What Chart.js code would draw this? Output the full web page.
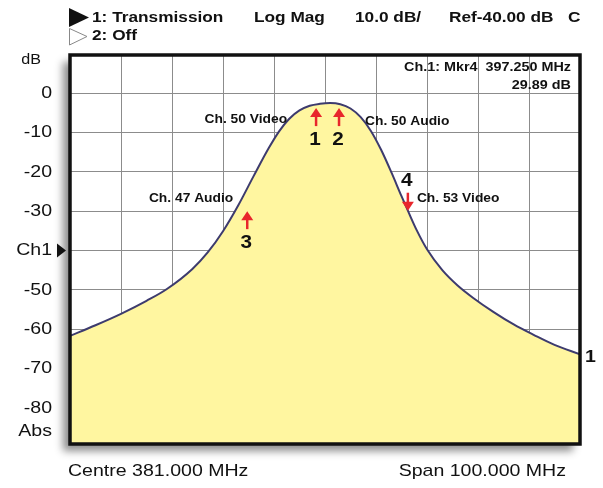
<!DOCTYPE html>
<html lang="en">
<head>
<meta charset="UTF-8">
<title>Transmission - Log Mag</title>
<script src="https://cdn.jsdelivr.net/npm/chart.js"></script>
<style>
  html, body { margin: 0; padding: 0; background: #fff; }
  #wrap { width: 603px; height: 488px; }
</style>
</head>
<body>
<div id="wrap"><canvas id="vna" width="603" height="488"></canvas></div>
<script>
// sweep settings
const centreMHz = 381;
const spanMHz = 100;

// trace 1: transmission
const freqMHz = [331, 336, 341, 346, 350, 355, 358, 361, 364, 367, 370, 372, 374, 376, 378, 380,
                 382, 384, 386, 388, 390, 392, 394, 396, 397.25, 399, 401, 404, 407, 410, 414, 418, 422, 426, 431];
const transmissionDb = [-61.7, -59.0, -56.1, -52.8, -49.8, -44.7, -40.5, -35.1, -28.5, -21.1, -13.9, -9.7, -6.5, -4.4, -3.2, -2.7,
                        -2.5, -2.8, -3.9, -6.1, -9.6, -14.4, -20.1, -26.2, -29.89, -34.9, -39.7, -45, -48.9, -52, -55.6, -58.8, -61.5, -64, -66.4];

// graticule
const freqGrid = [331, 341, 351, 361, 371, 381, 391, 401, 411, 421, 431];
const dbGrid = [0, -10, -20, -30, -40, -50, -60, -70, -80];
const dbLabels = ['0', '-10', '-20', '-30', 'Ch1', '-50', '-60', '-70', '-80'];

// markers
const markerNames = ['1', '2', '3', '4'];
const markerFreqMHz = [379.25, 383.75, 365.75, 397.25];
const markerDb = [-3.8, -3.8, -30, -29.89];
const markerNotes = ['Ch. 50 Video', 'Ch. 50 Audio', 'Ch. 47 Audio', 'Ch. 53 Video'];

const FONT = '"Liberation Sans", Arial, Helvetica, sans-serif';
const STRETCH = 1.15; // the screen font is a bit wider than Arial

// text drawn slightly stretched sideways
function text(ctx, str, x, y, align) {
    const w = ctx.measureText(str).width * STRETCH;
    let left = x;
    if (align === 'right') left = x - w;
    else if (align === 'center') left = x - w / 2;
    ctx.save();
    ctx.translate(left, y);
    ctx.scale(STRETCH, 1);
    ctx.textAlign = 'left';
    ctx.textBaseline = 'middle';
    ctx.fillText(str, 0, 0);
    ctx.restore();
}

function arrow(ctx, x, tipY, dir) {
    // dir = 1 -> points up, -1 -> points down
    const len = 18;
    ctx.strokeStyle = '#e8262c';
    ctx.fillStyle = '#e8262c';
    ctx.lineWidth = 2.5;
    ctx.beginPath();
    ctx.moveTo(x, tipY + dir * 6);
    ctx.lineTo(x, tipY + dir * len);
    ctx.stroke();
    ctx.beginPath();
    ctx.moveTo(x, tipY);
    ctx.lineTo(x - 6, tipY + dir * 9);
    ctx.lineTo(x + 6, tipY + dir * 9);
    ctx.closePath();
    ctx.fill();
}

const screenPlugin = {
    id: 'screen',
    beforeDraw(chart) {
        const { ctx, chartArea: a } = chart;
        ctx.save();
        ctx.shadowColor = 'rgba(0,0,0,0.45)';
        ctx.shadowBlur = 8;
        ctx.shadowOffsetX = -7;
        ctx.shadowOffsetY = 7;
        ctx.fillStyle = '#fff';
        ctx.fillRect(a.left, a.top, a.right - a.left, a.bottom - a.top);
        ctx.restore();
    },
    afterDraw(chart) {
        const { ctx, chartArea: a } = chart;
        const xs = chart.scales.x, ys = chart.scales.y;
        ctx.save();

        // frame
        ctx.strokeStyle = '#111';
        ctx.lineWidth = 3.5;
        ctx.strokeRect(a.left, a.top, a.right - a.left, a.bottom - a.top);

        // header
        ctx.fillStyle = '#111';
        ctx.beginPath();
        ctx.moveTo(69, 8); ctx.lineTo(69, 27); ctx.lineTo(89, 17.5); ctx.closePath();
        ctx.fill();
        ctx.strokeStyle = '#888';
        ctx.lineWidth = 1;
        ctx.beginPath();
        ctx.moveTo(69.5, 28.5); ctx.lineTo(69.5, 45); ctx.lineTo(87, 36.5); ctx.closePath();
        ctx.stroke();

        ctx.font = 'bold 15px ' + FONT;
        text(ctx, '1: Transmission', 92, 17.5, 'left');
        text(ctx, 'Log Mag', 254, 17.5, 'left');
        text(ctx, '10.0 dB/', 355, 17.5, 'left');
        text(ctx, 'Ref-40.00 dB', 449, 17.5, 'left');
        text(ctx, 'C', 568, 17.5, 'left');
        text(ctx, '2: Off', 92, 36, 'left');

        // y labels
        ctx.font = '17px ' + FONT;
        dbGrid.forEach((v, i) => text(ctx, dbLabels[i], 52, ys.getPixelForValue(v), 'right'));
        text(ctx, 'Abs', 52, ys.getPixelForValue(-86), 'right');
        ctx.font = '14px ' + FONT;
        text(ctx, 'dB', 41, ys.getPixelForValue(8.3), 'right');
        const refY = ys.getPixelForValue(-40);
        ctx.beginPath();
        ctx.moveTo(57, refY - 7); ctx.lineTo(57, refY + 7); ctx.lineTo(66, refY); ctx.closePath();
        ctx.fill();

        // footer
        ctx.font = '17px ' + FONT;
        text(ctx, 'Centre ' + centreMHz.toFixed(3) + ' MHz', 68, 471, 'left');
        text(ctx, 'Span ' + spanMHz.toFixed(3) + ' MHz', 566, 471, 'right');

        // active marker readout
        ctx.font = 'bold 12.5px ' + FONT;
        text(ctx, 'Ch.1: Mkr4  ' + markerFreqMHz[3].toFixed(3) + ' MHz', 571, 68, 'right');
        text(ctx, Math.abs(markerDb[3]).toFixed(2) + ' dB', 571, 86, 'right');

        // trace number at the right end
        ctx.font = 'bold 17px ' + FONT;
        text(ctx, '1', a.right + 5, ys.getPixelForValue(transmissionDb[transmissionDb.length - 1]) + 3, 'left');

        // markers with notes
        const dirs = [1, 1, 1, -1];
        const noteOff = [[-29, 12, 'right'], [26, 14, 'left'], [-14, -12, 'right'], [9, -12, 'left']];
        markerFreqMHz.forEach((f, i) => {
            const x = xs.getPixelForValue(f);
            const y = ys.getPixelForValue(markerDb[i]);
            arrow(ctx, x, y, dirs[i]);
            ctx.fillStyle = '#111';
            ctx.font = 'bold 18px ' + FONT;
            text(ctx, markerNames[i], x - 1, dirs[i] > 0 ? y + 32 : y - 30, 'center');
            ctx.font = 'bold 12px ' + FONT;
            text(ctx, markerNotes[i], x + noteOff[i][0], y + noteOff[i][1], noteOff[i][2]);
        });
        ctx.restore();
    }
};

new Chart(document.getElementById('vna'), {
    type: 'line',
    data: {
        datasets: [{
            data: freqMHz.map((f, i) => ({ x: f, y: transmissionDb[i] })),
            borderColor: '#3d3b6e',
            borderWidth: 2,
            backgroundColor: '#fff6a0',
            fill: 'start',
            pointRadius: 0,
            cubicInterpolationMode: 'monotone'
        }]
    },
    options: {
        responsive: false,
        animation: false,
        layout: { padding: { left: 70, top: 55, right: 23, bottom: 44 } },
        plugins: { legend: { display: false }, tooltip: { enabled: false } },
        scales: {
            x: {
                type: 'linear',
                min: centreMHz - spanMHz / 2,
                max: centreMHz + spanMHz / 2,
                afterBuildTicks: s => { s.ticks = freqGrid.map(v => ({ value: v })); },
                ticks: { display: false },
                grid: { color: '#8c8c8c', lineWidth: 1, drawTicks: false },
                border: { display: false },
                z: 1
            },
            y: {
                min: -89.2,
                max: 9.7,
                afterBuildTicks: s => { s.ticks = dbGrid.map(v => ({ value: v })); },
                ticks: { display: false },
                grid: { color: '#8c8c8c', lineWidth: 1, drawTicks: false },
                border: { display: false },
                z: 1
            }
        }
    },
    plugins: [screenPlugin]
});
</script>
</body>
</html>
